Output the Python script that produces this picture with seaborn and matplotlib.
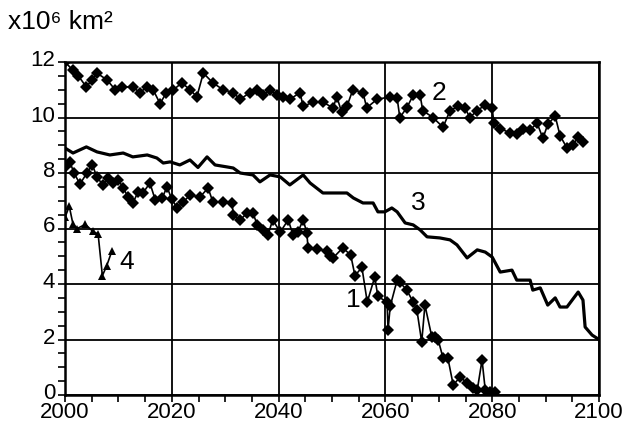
import matplotlib
matplotlib.use("Agg")
import matplotlib.pyplot as plt
import matplotlib.transforms as mtransforms
import seaborn as sns
from matplotlib.ticker import MultipleLocator

# Series 1: diamonds, steep decline to ice-free
years_1 = [2000.0, 2000.9, 2001.7, 2002.8, 2004.1, 2005.1, 2006.0, 2007.1, 2008.0, 2009.0,
           2010.0, 2010.9, 2011.8, 2012.7, 2013.7, 2014.6, 2015.9, 2016.9, 2018.2, 2019.1,
           2020.0, 2021.0, 2022.1, 2023.4, 2025.3, 2026.8, 2027.7, 2029.6, 2031.3, 2031.5,
           2032.8, 2034.1, 2035.2, 2036.0, 2037.1, 2038.0, 2038.9, 2040.3, 2041.8, 2042.7,
           2043.6, 2044.6, 2045.3, 2045.5, 2047.2, 2049.0, 2049.6, 2050.2, 2052.0, 2053.5,
           2054.3, 2055.6, 2056.6, 2058.0, 2058.6, 2060.3, 2060.5, 2060.9, 2062.2, 2062.7,
           2064.0, 2065.2, 2065.9, 2066.8, 2067.4, 2068.7, 2069.3, 2069.9, 2070.8, 2071.7,
           2072.7, 2074.0, 2075.3, 2076.4, 2077.2, 2078.1, 2078.7, 2079.6, 2080.5]
area_1 = [8.2, 8.4, 8.0, 7.6, 8.0, 8.3, 7.85, 7.57, 7.82, 7.64,
          7.75, 7.46, 7.14, 6.92, 7.32, 7.28, 7.64, 7.03, 7.1, 7.5,
          7.05, 6.75, 6.95, 7.2, 7.14, 7.46, 6.95, 6.95, 6.92, 6.49,
          6.31, 6.56, 6.56, 6.13, 5.95, 5.77, 6.31, 5.87, 6.31, 5.77,
          5.87, 6.31, 5.84, 5.3, 5.25, 5.2, 5.0, 4.94, 5.3, 5.05,
          4.3, 4.6, 3.35, 4.25, 3.55, 3.35, 2.35, 3.2, 4.14, 4.07,
          3.78, 3.35, 3.06, 1.91, 3.24, 2.09, 2.09, 1.98, 1.33, 1.33,
          0.36, 0.65, 0.43, 0.25, 0.18, 1.26, 0.18, 0.11, 0.1]

# Series 2: diamonds, slow decline from 12
years_2 = [2000.0, 2001.5, 2002.5, 2004.0, 2005.0, 2006.0, 2007.9, 2009.4, 2010.7, 2012.7,
           2014.0, 2015.4, 2016.5, 2017.8, 2019.0, 2020.3, 2021.9, 2023.4, 2024.7, 2025.9,
           2027.7, 2029.6, 2031.5, 2032.8, 2034.6, 2036.0, 2037.1, 2038.4, 2039.7, 2040.8,
           2042.1, 2044.0, 2044.6, 2046.4, 2048.3, 2050.2, 2050.9, 2051.8, 2052.8, 2053.9,
           2055.8, 2056.5, 2058.4, 2060.9, 2062.2, 2062.7, 2064.0, 2065.2, 2066.5, 2067.0,
           2068.9, 2070.8, 2072.1, 2073.6, 2074.9, 2075.8, 2077.2, 2078.7, 2080.0, 2080.3,
           2081.5, 2083.3, 2084.6, 2085.8, 2087.1, 2088.4, 2089.5, 2090.4, 2091.8, 2092.7,
           2094.0, 2095.1, 2096.1, 2097.0]
area_2 = [12.0, 11.7, 11.5, 11.1, 11.35, 11.6, 11.35, 11.0, 11.1, 11.1,
          10.9, 11.1, 11.0, 10.5, 10.9, 11.0, 11.25, 11.0, 10.75, 11.6,
          11.25, 11.0, 10.9, 10.65, 10.9, 11.0, 10.8, 11.0, 10.8, 10.75,
          10.65, 10.9, 10.4, 10.55, 10.55, 10.35, 10.75, 10.2, 10.4, 11.0,
          10.9, 10.35, 10.65, 10.75, 10.7, 10.0, 10.35, 10.8, 10.8, 10.25,
          10.0, 9.65, 10.25, 10.4, 10.35, 10.0, 10.25, 10.45, 10.35, 9.8,
          9.6, 9.45, 9.4, 9.6, 9.55, 9.8, 9.25, 9.75, 10.05, 9.35,
          8.9, 9.0, 9.3, 9.1]

# Series 3: plain line down to 2 by 2100
years_3 = [2000.0, 2001.5, 2004.0, 2006.0, 2008.4, 2010.9, 2012.7, 2015.4, 2017.2, 2018.4,
           2019.7, 2021.5, 2023.4, 2024.9, 2026.6, 2028.1, 2030.3, 2031.5, 2032.8, 2035.2,
           2036.5, 2038.4, 2040.3, 2042.1, 2044.6, 2045.9, 2048.3, 2052.8, 2054.0, 2055.8,
           2057.7, 2058.6, 2059.9, 2061.2, 2062.2, 2063.7, 2065.2, 2066.5, 2067.8, 2070.2,
           2072.1, 2073.4, 2075.3, 2077.2, 2078.7, 2080.0, 2081.5, 2083.7, 2084.6, 2087.1,
           2087.6, 2089.0, 2090.4, 2091.8, 2092.7, 2094.0, 2096.1, 2097.0, 2097.4, 2098.7,
           2100.0]
area_3 = [8.9, 8.72, 8.94, 8.76, 8.65, 8.72, 8.58, 8.65, 8.54, 8.36,
          8.4, 8.29, 8.47, 8.2, 8.58, 8.29, 8.22, 8.18, 8.0, 7.93,
          7.68, 7.93, 7.86, 7.57, 7.93, 7.64, 7.28, 7.28, 7.1, 6.92,
          6.92, 6.6, 6.6, 6.74, 6.6, 6.2, 6.13, 5.95, 5.7, 5.66,
          5.59, 5.41, 4.94, 5.23, 5.15, 4.97, 4.43, 4.5, 4.14, 4.14,
          3.78, 3.86, 3.24, 3.5, 3.17, 3.17, 3.71, 3.42, 2.45, 2.16,
          2.0]

# Series 4: short observed record
years_4 = [2000.0, 2000.8, 2001.5, 2002.3, 2003.8, 2005.2, 2006.2, 2007.0, 2007.8, 2008.8]
area_4 = [6.4, 6.8, 6.15, 6.0, 6.15, 5.9, 5.8, 4.3, 4.65, 5.2]

series_labels = ["1", "2", "3", "4"]
label_pos = [(2053.9, 3.42), (2070.0, 10.88), (2066.1, 6.92), (2011.6, 4.79)]

sns.set_style("ticks")
plt.rcParams["font.family"] = ["Liberation Sans", "DejaVu Sans"]
plt.rcParams["text.color"] = "black"

fig = plt.figure(figsize=(6.32, 4.25), dpi=100)
ax = fig.add_axes([65 / 632, 1 - 395 / 425, 534 / 632, 333 / 425])

common = dict(ax=ax, color="black", sort=False, estimator=None)
sns.lineplot(x=years_1, y=area_1, marker="D", markersize=6, linewidth=1.2,
             markeredgewidth=0, **common)
sns.lineplot(x=years_2, y=area_2, marker="D", markersize=6, linewidth=1.2,
             markeredgewidth=0, **common)
sns.lineplot(x=years_3, y=area_3, linewidth=2.3, **common)
sns.lineplot(x=years_4, y=area_4, marker="^", markersize=6, linewidth=1.2,
             markeredgewidth=0, **common)

for lab, (lx, ly) in zip(series_labels, label_pos):
    ax.text(lx, ly, lab, fontsize=19, ha="center", va="center", color="black")

ax.set_xlim(2000, 2100)
ax.set_ylim(0, 12)
ax.xaxis.set_major_locator(MultipleLocator(20))
ax.xaxis.set_minor_locator(MultipleLocator(5))
ax.yaxis.set_major_locator(MultipleLocator(2))
ax.yaxis.set_minor_locator(MultipleLocator(0.5))
ax.grid(which="major", color="black", linewidth=1.3)
ax.set_axisbelow(True)
ax.tick_params(which="both", direction="out", length=5, width=1.2,
               color="black", labelcolor="black")
ax.tick_params(axis="x", which="major", labelsize=16, pad=0)
ax.tick_params(axis="y", which="major", labelsize=16, pad=2)
for sp in ax.spines.values():
    sp.set_visible(True)
    sp.set_linewidth(1.8)
    sp.set_color("black")
ax.set_xlabel("")
ax.set_ylabel("")

# lift the y tick labels a few pixels so "0" clears the year labels below
lift = mtransforms.ScaledTranslation(0, 4 / 100, fig.dpi_scale_trans)
for lbl in ax.get_yticklabels():
    lbl.set_transform(lbl.get_transform() + lift)

fig.text(8 / 632, 1 - 22 / 425, "x10\u2076 km\u00b2", fontsize=19, ha="left",
         va="center", color="black")

fig.savefig("out.png", dpi=100)
